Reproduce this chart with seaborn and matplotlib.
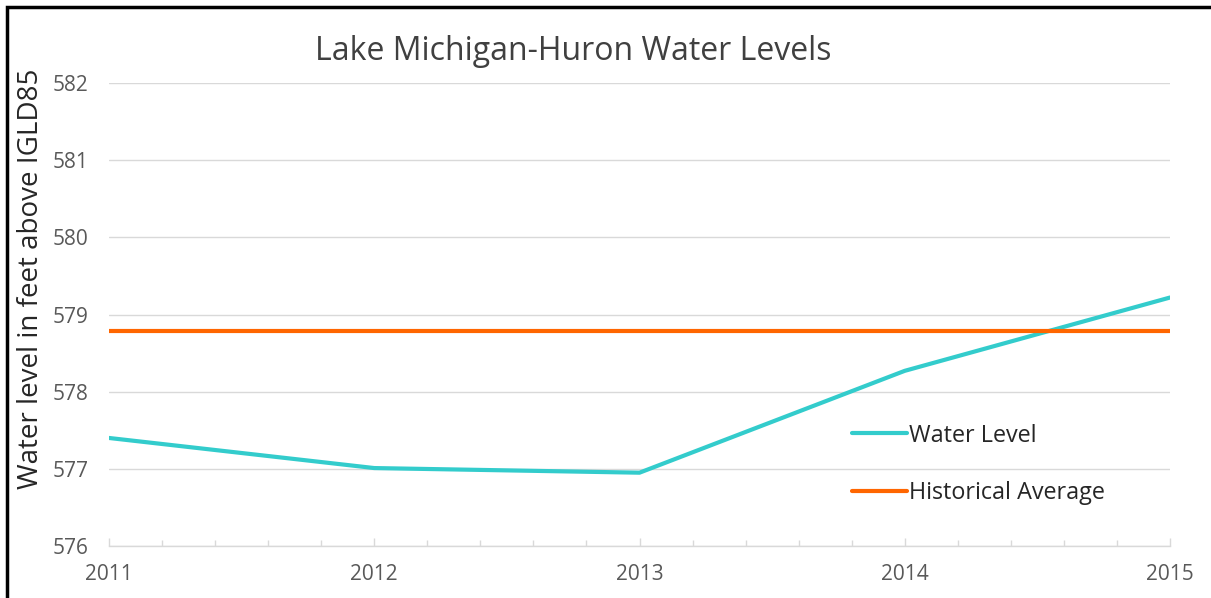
import pandas as pd
import seaborn as sns
import matplotlib.pyplot as plt
from matplotlib.patches import Rectangle
from matplotlib.ticker import MultipleLocator

#///// Data
years = [2011, 2012, 2013, 2014, 2015]
water_level = [577.40, 577.01, 576.95, 578.27, 579.22]
historical_average = [578.79, 578.79, 578.79, 578.79, 578.79]
series_names = ['Water Level', 'Historical Average']
y_ticks = [576, 577, 578, 579, 580, 581, 582]

#///// Long-form table for seaborn
df = pd.DataFrame({
    'Year': years * 2,
    'Level': water_level + historical_average,
    'Series': [series_names[0]] * len(years) + [series_names[1]] * len(years),
})

sns.set_theme(style='white')
plt.rcParams['font.family'] = ['Open Sans', 'DejaVu Sans']

fig = plt.figure(figsize=(12.11, 5.98), dpi=100)
ax = fig.add_axes([109 / 1211, 1 - 546 / 598, (1170 - 109) / 1211, (546 - 83) / 598])

# Lines
sns.lineplot(data=df, x='Year', y='Level', hue='Series', hue_order=series_names,
             palette=['#33CCCC', '#FF6600'], linewidth=3, ax=ax)

# Axes limits and ticks
ax.set_xlim(2011, 2015)
ax.set_ylim(576, 582)
ax.set_yticks(y_ticks)
ax.set_xticks(years)
ax.xaxis.set_minor_locator(MultipleLocator(0.2))
ax.grid(axis='y', color='#D9D9D9', linewidth=1)
ax.set_axisbelow(True)
ax.tick_params(axis='y', length=0, pad=15, labelsize=15, labelcolor='#595959')
ax.tick_params(axis='x', which='major', direction='in', length=6, width=1, color='#D9D9D9',
               pad=13, labelsize=15, labelcolor='#595959', bottom=True)
ax.tick_params(axis='x', which='minor', direction='in', length=4, width=1, color='#D9D9D9', bottom=True)
for side in ['left', 'top', 'right']:
    ax.spines[side].set_visible(False)
ax.spines['bottom'].set_color('#D9D9D9')
ax.spines['bottom'].set_linewidth(1)
ax.set_xlabel('')
ax.set_ylabel('')

# Title and y label
fig.text(573 / 1211, 1 - 52 / 598, 'Lake Michigan-Huron Water Levels', ha='center', va='center',
         fontsize=23, color='#404040')
fig.text(31 / 1211, 1 - 279 / 598, 'Water level in feet above IGLD85', rotation=90,
         ha='center', va='center', fontsize=20, color='#262626')

# Legend
ax.legend(loc='center left', bbox_to_anchor=(840 / 1211, 1 - 464.5 / 598),
          bbox_transform=fig.transFigure, frameon=False, fontsize=16.8, borderpad=0,
          handlelength=2.35, handletextpad=0.12, labelspacing=1.45, labelcolor='#262626')

# Outer frame
fig.patches.append(Rectangle((7 / 1211, -0.1), 1.2, 1.1 - 7 / 598, transform=fig.transFigure,
                             fill=False, edgecolor='black', linewidth=2.5))

plt.savefig('out.png', dpi=100)
